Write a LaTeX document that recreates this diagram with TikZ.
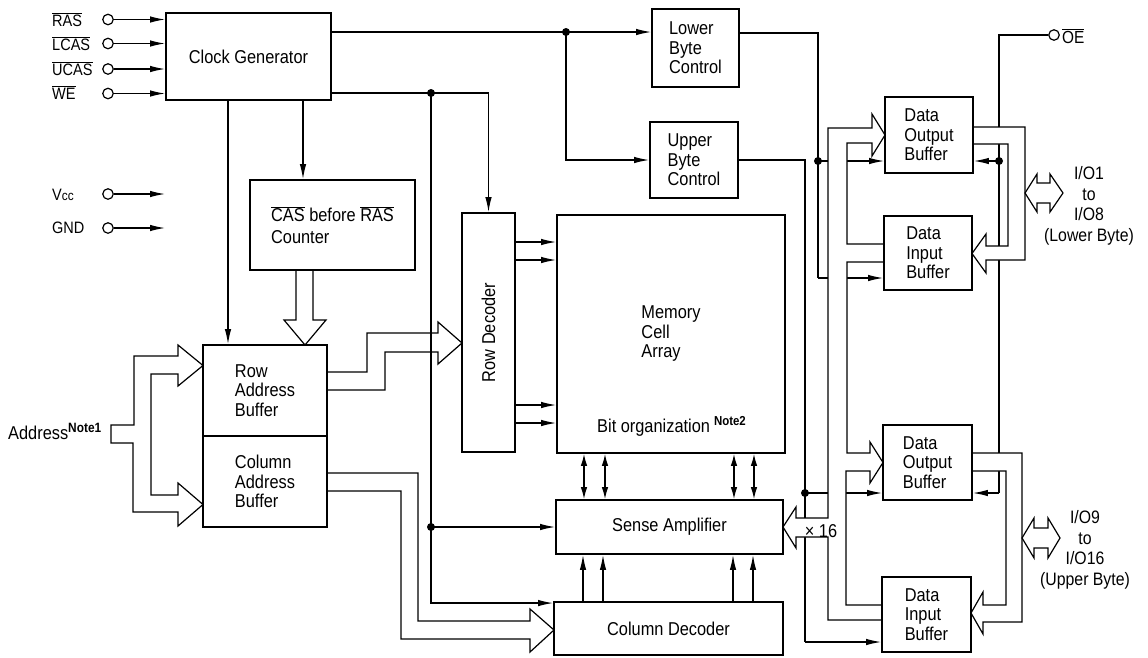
\documentclass[tikz,border=0pt]{standalone}
\usepackage{fontspec}
\setmainfont{Liberation Sans}[FakeStretch=0.88]
\usetikzlibrary{arrows.meta}
\pgfdeclarelayer{bg}
\pgfsetlayers{bg,main}
\newcommand\ovl[1]{$\overline{\mbox{#1}}$}
\begin{document}
\begin{tikzpicture}[x=1pt,y=-1pt,
  every node/.style={font=\fontsize{18.6}{19.5}\selectfont, inner sep=0pt},
  blk/.style={draw, line width=1.9pt, rectangle, align=left},
  ln/.style={line width=1.2pt},
  arr/.style={ln, -{Latex[length=15pt,width=6.5pt]}},
  barr/.style={ln, {Latex[length=12pt,width=6.5pt]}-{Latex[length=12pt,width=6.5pt]}},
  bus/.style={line width=1.2pt, fill=white, line join=miter},
  pincirc/.style={draw, circle, line width=1.2pt, minimum size=10.5pt},
  plabel/.style={anchor=base west, font=\fontsize{16.5}{17}\selectfont},
  jdot/.style={fill=black},
]
\useasboundingbox (0,0) rectangle (1148,657);

% ---------- blocks ----------
\node[blk, minimum width=165pt, minimum height=87pt] (clk) at (248.5,56.5) {Clock Generator};
\node[blk, minimum width=87pt, minimum height=78pt] (lbc) at (695.5,48) {Lower\\Byte\\Control};
\node[blk, minimum width=88pt, minimum height=76pt] (ubc) at (694,160) {Upper\\Byte\\Control};
\node[blk, minimum width=165pt, minimum height=90pt] (cnt) at (332.5,225) {\ovl{CAS} before \ovl{RAS}\\[2pt]Counter};
\node[blk, minimum width=124pt, minimum height=91pt] (rab) at (265,390.5) {Row\\Address\\Buffer};
\node[blk, minimum width=124pt, minimum height=91pt] (cab) at (265,481.5) {Column\\Address\\Buffer};
\node[blk, minimum width=53pt, minimum height=239pt] (rdec) at (488.5,332.5) {};
\node[rotate=90] (rdect) at (rdec.center) {Row Decoder};
\node[blk, minimum width=228pt, minimum height=238pt] (mem) at (671,334) {Memory\\Cell\\Array};
\node[anchor=base west] (bito) at (597,432) {Bit organization\hspace{4pt}\raisebox{7pt}{\fontsize{13}{13}\selectfont\bfseries Note2}};
\node[blk, minimum width=227pt, minimum height=54pt] (sa) at (669.5,527) {Sense Amplifier};
\node[blk, minimum width=229pt, minimum height=53pt] (cdec) at (668.5,628.5) {Column Decoder};
\node[blk, minimum width=88pt, minimum height=76pt] (dob1) at (929,135) {Data\\Output\\Buffer};
\node[blk, minimum width=88pt, minimum height=74pt] (dib1) at (928,253) {Data\\Input\\Buffer};
\node[blk, minimum width=89pt, minimum height=75pt] (dob2) at (927.5,462.5) {Data\\Output\\Buffer};
\node[blk, minimum width=89pt, minimum height=75pt] (dib2) at (926.5,614.5) {Data\\Input\\Buffer};

% ---------- pins ----------
\node[pincirc] (pras) at (108,19.5) {};
\node[pincirc] (plcas) at (108,43.5) {};
\node[pincirc] (pucas) at (108,69) {};
\node[pincirc] (pwe) at (108,93.5) {};
\node[pincirc] (pvcc) at (108,194) {};
\node[pincirc] (pgnd) at (108,228) {};
\node[pincirc] (poe) at (1054,35) {};
\node[plabel] (lras) at (52,26) {\ovl{RAS}};
\node[plabel] (llcas) at (52,50) {\ovl{LCAS}};
\node[plabel] (lucas) at (52,75) {\ovl{UCAS}};
\node[plabel] (lwe) at (52,99) {\ovl{WE}};
\node[plabel] (lvcc) at (52,200) {V{\fontsize{13.5}{13.5}\selectfont cc}};
\node[plabel] (lgnd) at (52,233) {GND};
\node[anchor=base west, font=\fontsize{17.5}{17}\selectfont] (loe) at (1062,43) {\ovl{OE}};
\node[anchor=base west] (laddr) at (8,439) {Address\raisebox{7pt}{\fontsize{13.5}{13.5}\selectfont\bfseries Note1}};
\node[align=center, font=\fontsize{18}{20.5}\selectfont] (io1) at (1089,206) {I/O1\\to\\I/O8\\(Lower Byte)};
\node[align=center, font=\fontsize{18}{20.5}\selectfont] (io2) at (1085,550) {I/O9\\to\\I/O16\\(Upper Byte)};
\node (x16) at (821,531) {× 16};

% ---------- junction coordinates ----------
\coordinate (j1) at (566,32);
\coordinate (j2) at (431,93);
\coordinate (j3) at (431,527);
\coordinate (k1) at ([xshift=-37pt]rab.north);
\coordinate (k2) at ([xshift=-29.5pt]cnt.north);
\coordinate (vcce) at (165,194);
\coordinate (gnde) at (165,228);
\coordinate (lb1) at (818,33);
\coordinate (j4) at (818,161);
\coordinate (lb2) at (818,278);
\coordinate (ub1) at (805,160);
\coordinate (j5) at (805,493);
\coordinate (ub2) at (805,642);
\coordinate (oe1) at (999,35);
\coordinate (j6) at (999,161);
\coordinate (oe2) at (999,493);

\begin{pgfonlayer}{bg}
% left buses
\draw[bus] (134,356) -- (178,356) -- (178,345) -- (203,365.5) -- (178,386) -- (178,374) -- (151,374)
  -- (151,495) -- (178,495) -- (178,483) -- (203,504.5) -- (178,526) -- (178,512) -- (133,512)
  -- (133,443) -- (111,443) -- (111,425) -- (134,425) -- cycle;
\draw[bus] (296,270) -- (296,320) -- (284,320) -- (305,345) -- (326,320) -- (313,320) -- (313,270);
\draw[bus] (327,372) -- (367,372) -- (367,333) -- (438,333) -- (438,322) -- (462,343) -- (438,364)
  -- (438,352) -- (385,352) -- (385,390) -- (327,390);
\draw[bus] (327,473) -- (418,473) -- (418,621) -- (530,621) -- (530,609) -- (554,630) -- (530,652)
  -- (530,639) -- (401,639) -- (401,491) -- (327,491);

% control lines
\draw[arr] (pras) -- (pras -| clk.west);
\draw[arr] (plcas) -- (plcas -| clk.west);
\draw[arr] (pucas) -- (pucas -| clk.west);
\draw[arr] (pwe) -- (pwe -| clk.west);
\draw[arr] (pvcc) -- (vcce);
\draw[arr] (pgnd) -- (gnde);

\draw[ln] (clk.east |- j1) -- (j1);
\draw[arr] (j1) -- (j1 -| lbc.west);
\draw[arr] (j1) |- (ubc.west);

\draw[ln] (clk.east |- j2) -- (j2);
\draw[arr] (j2) -| (rdec.north);
\draw[ln] (j2) -- (j3);
\draw[arr] (j3) -- (sa.west);
\draw[arr] (j3) |- ([yshift=-2pt]cdec.north west);

\draw[arr] (k1 |- clk.south) -- (k1);
\draw[arr] (k2 |- clk.south) -- (k2);

\foreach \y in {242,260,405,423}
  \draw[arr] (rdec.east |- 0,\y) -- (mem.west |- 0,\y);
\foreach \x in {584,605,734,754}
  \draw[barr] (mem.south -| \x,0) -- (sa.north -| \x,0);
\foreach \x in {583,603,733,753}
  \draw[arr] (cdec.north -| \x,0) -- (sa.south -| \x,0);

\draw[ln] (lbc.east |- lb1) -- (lb1) -- (lb2);
\draw[arr] (lb2) -- (lb2 -| dib1.west);
\draw[arr] (j4) -- (j4 -| dob1.west);

\draw[ln] (ubc.east) -- (ub1) -- (ub2);
\draw[arr] (ub2) -- (ub2 -| dib2.west);
\draw[arr] (j5) -- (j5 -| dob2.west);

\draw[ln] (poe) -- (oe1) -- (oe2);
\draw[arr] (oe2) -- (oe2 -| dob2.east);
\draw[arr] (j6) -- (j6 -| dob1.east);

% right buses (drawn over the control lines)
\draw[bus] (783,527) -- (796,507) -- (796,518) -- (828,518) -- (828,128) -- (872,128) -- (872,114)
  -- (885,135) -- (872,156) -- (872,143) -- (847,143) -- (847,244) -- (884,244) -- (884,262)
  -- (847,262) -- (847,453) -- (870,453) -- (870,442) -- (883,462.5) -- (870,483) -- (870,471)
  -- (846,471) -- (846,605) -- (882,605) -- (882,620) -- (828,620) -- (828,537) -- (796,537)
  -- (796,548) -- cycle;
\draw[bus] (973,127) -- (1025,127) -- (1025,260) -- (986,260) -- (986,273) -- (972,253.5) -- (986,234)
  -- (986,246) -- (1008,246) -- (1008,144) -- (973,144);
\draw[bus] (972,453) -- (1022,453) -- (1022,622) -- (983,622) -- (983,634) -- (971,613) -- (983,592)
  -- (983,605) -- (1006,605) -- (1006,471) -- (972,471);
\draw[bus] (1025,193) -- (1037,174) -- (1037,183) -- (1050,183) -- (1050,174) -- (1063,193)
  -- (1050,212) -- (1050,203) -- (1037,203) -- (1037,212) -- cycle;
\draw[bus] (1022,538) -- (1034,518) -- (1034,528) -- (1048,528) -- (1048,518) -- (1060,538)
  -- (1048,558) -- (1048,548) -- (1034,548) -- (1034,558) -- cycle;
\end{pgfonlayer}

% junction dots
\foreach \j in {j1,j2,j3,j4,j5,j6}
  \fill[jdot] (\j) circle (4pt);
\end{tikzpicture}
\end{document}
